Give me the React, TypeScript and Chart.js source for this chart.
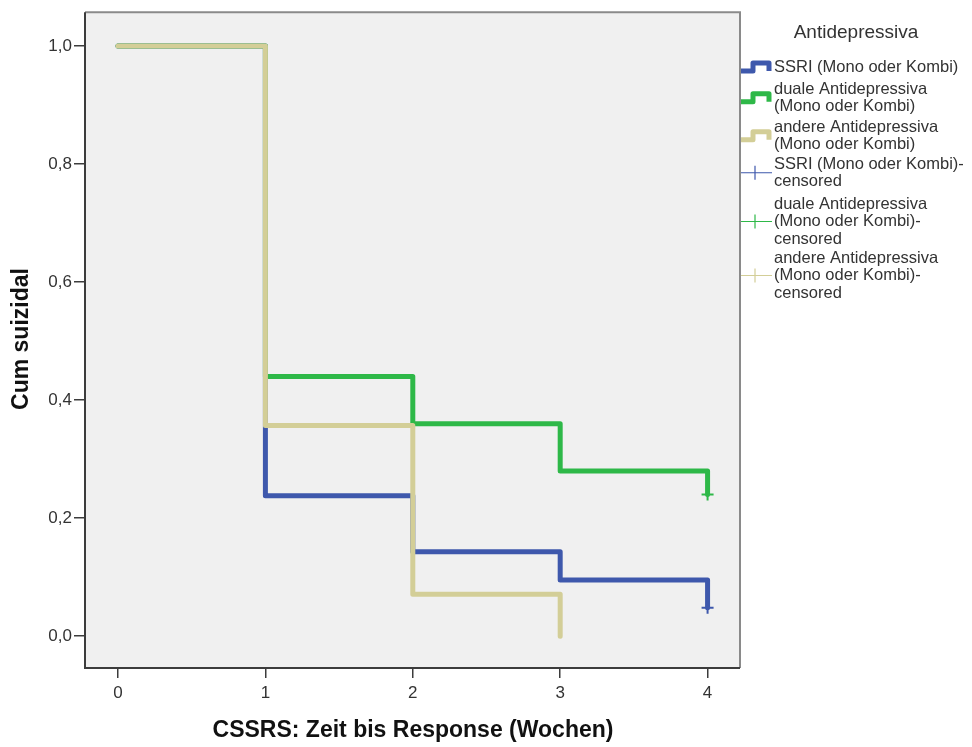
import React, { useEffect, useRef } from "react";
import { Chart, registerables } from "chart.js";
Chart.register(...registerables);

// ---- data ----
const xTickValues = [0, 1, 2, 3, 4];
const yTickValues = [0, 0.2, 0.4, 0.6, 0.8, 1.0];
const yTickLabels = ["0,0", "0,2", "0,4", "0,6", "0,8", "1,0"];

const ssriTimes = [0, 1, 2, 3, 4];
const ssriCum = [1.0, 0.238, 0.143, 0.095, 0.048];
const dualeTimes = [0, 1, 2, 3, 4];
const dualeCum = [1.0, 0.44, 0.36, 0.28, 0.24];
const andereTimes = [0, 1, 2, 3];
const andereCum = [1.0, 0.357, 0.071, 0.0];

const ssriCensTimes = [4];
const ssriCensCum = [0.048];
const dualeCensTimes = [4];
const dualeCensCum = [0.24];

const legendTitle = "Antidepressiva";
const legendEntries = [
  { lines: ["SSRI (Mono oder Kombi)"], color: "#3e58ac", kind: "line" },
  { lines: ["duale Antidepressiva", "(Mono oder Kombi)"], color: "#2eb848", kind: "line" },
  { lines: ["andere Antidepressiva", "(Mono oder Kombi)"], color: "#d3ce97", kind: "line" },
  { lines: ["SSRI (Mono oder Kombi)-", "censored"], color: "#3e58ac", kind: "cens" },
  { lines: ["duale Antidepressiva", "(Mono oder Kombi)-", "censored"], color: "#2eb848", kind: "cens" },
  { lines: ["andere Antidepressiva", "(Mono oder Kombi)-", "censored"], color: "#d3ce97", kind: "cens" },
];

const xTitle = "CSSRS: Zeit bis Response (Wochen)";
const yTitle = "Cum suizidal";

const BLUE = "#3e58ac";
const GREEN = "#2eb848";
const TAN = "#d3ce97";
const FONT = "'Liberation Sans', Arial, sans-serif";

const toPts = (xs: number[], ys: number[]) => xs.map((x, i) => ({ x, y: ys[i] }));

const decorPlugin = {
  id: "decor",
  beforeDatasetsDraw(chart: any) {
    const { ctx, chartArea: a } = chart;
    ctx.save();
    ctx.fillStyle = "#f0f0f0";
    ctx.fillRect(a.left, a.top, a.right - a.left, a.bottom - a.top);
    ctx.restore();
  },
  afterDraw(chart: any) {
    const { ctx, chartArea: a } = chart;
    ctx.save();
    // frame
    ctx.lineWidth = 2;
    ctx.strokeStyle = "#8a8a8a";
    ctx.beginPath();
    ctx.moveTo(a.left, a.top);
    ctx.lineTo(a.right, a.top);
    ctx.lineTo(a.right, a.bottom);
    ctx.stroke();
    ctx.strokeStyle = "#3c3c3c";
    ctx.beginPath();
    ctx.moveTo(a.left, a.top);
    ctx.lineTo(a.left, a.bottom);
    ctx.lineTo(a.right, a.bottom);
    ctx.stroke();

    // axis titles
    ctx.fillStyle = "#111";
    ctx.font = `bold 23px ${FONT}`;
    ctx.textAlign = "center";
    ctx.textBaseline = "middle";
    ctx.fillText(xTitle, 413, 731);
    ctx.save();
    ctx.translate(22, 339);
    ctx.rotate(-Math.PI / 2);
    ctx.fillText(yTitle, 0, 0);
    ctx.restore();

    // legend
    ctx.fillStyle = "#333";
    ctx.font = `19px ${FONT}`;
    ctx.textAlign = "center";
    ctx.fillText(legendTitle, 856, 33);
    ctx.font = `16.5px ${FONT}`;
    ctx.textAlign = "left";
    const lineH = 17.5;
    const starts = [67, 89, 127, 164, 204, 258];
    legendEntries.forEach((e, i) => {
      const y0 = starts[i];
      e.lines.forEach((t, j) => {
        ctx.fillStyle = "#333";
        ctx.fillText(t, 774, y0 + j * lineH);
      });
      const c = y0 + ((e.lines.length - 1) * lineH) / 2;
      ctx.strokeStyle = e.color;
      if (e.kind === "line") {
        ctx.lineWidth = 5;
        ctx.lineJoin = "round";
        ctx.beginPath();
        ctx.moveTo(741, c + 4);
        ctx.lineTo(753, c + 4);
        ctx.lineTo(753, c - 4);
        ctx.lineTo(769, c - 4);
        ctx.lineTo(769, c + 4);
        ctx.stroke();
      } else {
        ctx.lineWidth = 1.2;
        ctx.beginPath();
        ctx.moveTo(741, c);
        ctx.lineTo(772, c);
        ctx.moveTo(755, c - 7);
        ctx.lineTo(755, c + 7);
        ctx.stroke();
      }
    });
    ctx.restore();
  },
};

export default function App() {
  const ref = useRef<HTMLCanvasElement | null>(null);
  useEffect(() => {
    if (!ref.current) return;
    const stepLine = (data: any, color: string, order: number) => ({
      type: "line",
      data,
      borderColor: color,
      backgroundColor: color,
      borderWidth: 5,
      stepped: "before",
      pointRadius: 0,
      borderJoinStyle: "round",
      borderCapStyle: "round",
      fill: false,
      order,
    });
    const cens = (data: any, color: string) => ({
      type: "scatter",
      data,
      borderColor: color,
      backgroundColor: color,
      pointStyle: "cross",
      pointRadius: 6,
      pointBorderWidth: 2,
      showLine: false,
      order: 0,
    });
    const chart = new Chart(ref.current, {
      type: "line",
      data: {
        datasets: [
          stepLine(toPts(ssriTimes, ssriCum), BLUE, 3),
          stepLine(toPts(dualeTimes, dualeCum), GREEN, 2),
          stepLine(toPts(andereTimes, andereCum), TAN, 1),
          cens(toPts(ssriCensTimes, ssriCensCum), BLUE),
          cens(toPts(dualeCensTimes, dualeCensCum), GREEN),
        ] as any,
      },
      plugins: [decorPlugin],
      options: {
        animation: false,
        responsive: false,
        events: [],
        layout: { padding: { top: 10, right: 232, left: 0, bottom: 0 } },
        plugins: { legend: { display: false }, tooltip: { enabled: false } },
        scales: {
          x: {
            type: "linear",
            min: -0.224,
            max: 4.22,
            afterBuildTicks: (s: any) => {
              s.ticks = xTickValues.map((v) => ({ value: v }));
            },
            afterFit: (s: any) => {
              s.height = 79;
            },
            grid: { display: true, drawOnChartArea: false, drawTicks: true, tickLength: 10, color: "#3c3c3c", lineWidth: 1.5 },
            border: { display: false },
            ticks: {
              color: "#333",
              font: { family: FONT, size: 17 },
              padding: 5,
              maxRotation: 0,
              callback: (v: any) => String(v),
            },
          },
          y: {
            type: "linear",
            min: -0.054,
            max: 1.0574,
            afterBuildTicks: (s: any) => {
              s.ticks = yTickValues.map((v) => ({ value: v }));
            },
            afterFit: (s: any) => {
              s.width = 85;
            },
            grid: { display: true, drawOnChartArea: false, drawTicks: true, tickLength: 11, color: "#3c3c3c", lineWidth: 1.5 },
            border: { display: false },
            ticks: {
              color: "#333",
              font: { family: FONT, size: 17 },
              padding: 2,
              callback: (v: any) => {
                const i = yTickValues.findIndex((t) => Math.abs(t - v) < 1e-6);
                return i >= 0 ? yTickLabels[i] : "";
              },
            },
          },
        },
      } as any,
    });
    return () => chart.destroy();
  }, []);
  return (
    <div style={{ position: "absolute", left: 0, top: 0, width: 972, height: 747, background: "#fff" }}>
      <canvas ref={ref} width={972} height={747} style={{ width: 972, height: 747, display: "block" }} />
    </div>
  );
}
